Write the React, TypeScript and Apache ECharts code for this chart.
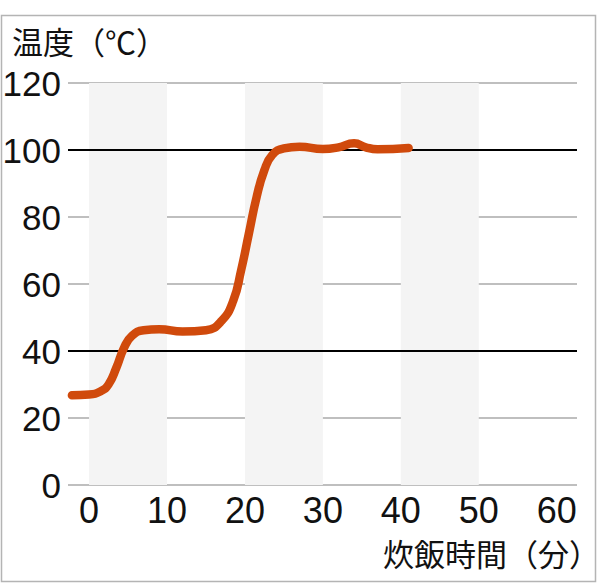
import React, { useEffect, useRef } from "react";
import * as echarts from "echarts";

const times = [-2.2, 0, 1.5, 2.5, 3.5, 4.5, 5.5, 7, 9, 12, 15, 17, 18.5, 19.5, 20.5, 21.5, 22.5, 23.5, 25, 27, 30, 32, 34, 35.5, 37, 41];
const temps = [26.8, 27, 28, 30, 35, 41, 44.5, 46.2, 46.5, 45.8, 46.2, 49, 55, 64, 75, 86, 94, 98.5, 100.5, 101, 100.3, 100.8, 102, 100.8, 100.2, 100.6];
const xTicks = [0, 10, 20, 30, 40, 50, 60];
const bandStarts = [0, 20, 40];
const bandWidth = 10;
const boldLines = [40, 100];
const yTitle = "温度（℃）";
const xTitle = "炊飯時間（分）";

const digitFont = "'Liberation Sans', 'Noto Sans', sans-serif";
const cjkFont = "'Noto Sans CJK JP', sans-serif";

export default function App() {
  const ref = useRef<HTMLDivElement>(null);
  useEffect(() => {
    if (!ref.current) return;
    const chart = echarts.init(ref.current, undefined, { renderer: "svg" });
    const pts = times.map((t, i) => [t, temps[i]]);
    chart.setOption({
      animation: false,
      backgroundColor: "#fff",
      grid: { left: 68, right: 23, top: 83, bottom: 103, outerBoundsMode: "none", containLabel: false },
      xAxis: {
        type: "value",
        min: -2.7,
        max: 62.6,
        axisLine: { show: false },
        axisTick: { show: false },
        splitLine: { show: false },
        axisLabel: {
          customValues: xTicks,
          fontSize: 36,
          lineHeight: 32,
          fontFamily: digitFont,
          color: "#111",
          margin: 9,
          hideOverlap: false,
        },
      },
      yAxis: {
        type: "value",
        min: 0,
        max: 120,
        interval: 20,
        axisLine: { show: false },
        axisTick: { show: false },
        splitLine: { show: true, lineStyle: { color: "#aaa", width: 1.5 } },
        axisLabel: {
          fontSize: 35,
          fontFamily: digitFont,
          color: "#111",
          margin: 7,
        },
      },
      graphic: [
        {
          type: "rect",
          shape: { x: 1.5, y: 15.5, width: 594, height: 566 },
          style: { fill: "none", stroke: "#b4b4b4", lineWidth: 1.5 },
          silent: true,
        },
        {
          type: "text",
          left: 12,
          top: 25,
          style: { text: yTitle, font: `31px ${cjkFont}`, lineHeight: 31, fill: "#111" },
        },
        {
          type: "text",
          right: 0,
          top: 537,
          style: { text: xTitle, font: `31px ${cjkFont}`, lineHeight: 31, fill: "#111" },
        },
      ],
      series: [
        {
          type: "line",
          data: pts,
          z: 1,
          showSymbol: false,
          lineStyle: { opacity: 0 },
          silent: true,
          markArea: {
            silent: true,
            itemStyle: { color: "#f4f4f4" },
            data: bandStarts.map((s) => [
              { xAxis: s, yAxis: 0 },
              { xAxis: s + bandWidth, yAxis: 120 },
            ]),
          },
          markLine: {
            silent: true,
            symbol: "none",
            label: { show: false },
            lineStyle: { color: "#000", width: 2, type: "solid" },
            data: boldLines.map((v) => ({ yAxis: v })),
          },
        },
        {
          type: "line",
          data: pts,
          z: 5,
          smooth: 0.5,
          showSymbol: false,
          lineStyle: { color: "#d04a0c", width: 8.5, cap: "round", join: "round" },
        },
      ],
    });
    return () => chart.dispose();
  }, []);
  return <div ref={ref} style={{ position: "fixed", left: 0, top: 0, width: 600, height: 588 }} />;
}
